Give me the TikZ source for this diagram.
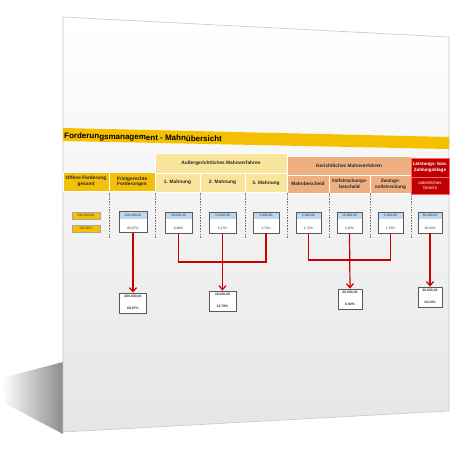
\documentclass[tikz,border=0pt]{standalone}
\usepackage{fontspec}
\setmainfont{Liberation Sans}
\usetikzlibrary{arrows.meta,fadings}
\definecolor{ttlY}{HTML}{F5C000}
\definecolor{hdrY}{HTML}{F3BF0A}
\definecolor{ausY}{HTML}{F8E49A}
\definecolor{gerS}{HTML}{EEB081}
\definecolor{klRed}{HTML}{C00000}
\definecolor{stripB}{HTML}{BDD7EE}
\definecolor{arrRed}{HTML}{CC0000}
\newcommand\mkvalbox[6]{% name, cx, width, top, value, percent
  \fill[white] ({#2-#3/2},#4) rectangle ({#2+#3/2},{#4+21});
  \fill[stripB] ({#2-#3/2},#4) rectangle ({#2+#3/2},{#4+7});
  \node[vtxt] (#1v) at (#2,{#4+3.6}) {#5};
  \node[vtxt] (#1p) at (#2,{#4+17}) {#6};
  \node[valframe, minimum width=#3, minimum height=21] (#1) at (#2,{#4+10.5}) {};
}
\newcommand\mksumbox[6]{% name, cx, width, top, value, percent
  \node[valframe, fill=white, minimum width=#3, minimum height=20] (#1) at (#2,{#4+10}) {};
  \node[vtxt, font=\fontsize{3.4}{3.7}\selectfont\bfseries] (#1v) at (#2,{#4+4}) {#5};
  \node[vtxt, font=\fontsize{3.4}{3.7}\selectfont\bfseries] (#1p) at (#2,{#4+16}) {#6};
}
\begin{document}
\begin{tikzpicture}[x=1pt,y=-1pt,
  hdr/.style={font=\fontsize{4.8}{5.5}\selectfont\bfseries, align=center, inner sep=0pt, text=black!85},
  sep/.style={draw=white, line width=0.5pt},
  vtxt/.style={font=\fontsize{3.3}{3.6}\selectfont, inner sep=0pt, text=black!80},
  valframe/.style={draw=black!65, line width=0.9pt, inner sep=0pt},
  dashline/.style={draw=black!55, dashed, line width=0.5pt, dash pattern=on 1.5pt off 1.2pt},
  redline/.style={draw=arrRed, line width=1.2pt},
  redarrow/.style={redline, -{Straight Barb[length=4pt,width=7pt]}}
]
\useasboundingbox (0,0) rectangle (450,450);
% shadow
\fill[black!45, path fading=west] (63,362) -- (2,378) -- (6,404) -- (63,434) -- cycle;
% page
\shade[top color=white, bottom color=black!10, draw=black!22, line width=0.6pt]
  (63,17) -- (449,37) -- (449,411) -- (63,432) -- cycle;
% title bar
\fill[ttlY] (63,128) -- (449,137) -- (449,149) -- (63,141) -- cycle;
\node[anchor=west, inner sep=0pt, rotate=-1.3, font=\fontsize{8}{9}\selectfont\bfseries]
  (title) at (64,136.2) {Forderungsmanagement - Mahnübersicht};
% header cells
\path[fill=hdrY, sep] (63,172) rectangle (109,191);
\path[fill=hdrY, sep] (109,172) rectangle (155,191.5);
\path[fill=ausY, sep] (155,153) rectangle (287,173);
\path[fill=ausY, sep] (155,173) rectangle (200,192);
\path[fill=ausY, sep] (200,173) rectangle (245,192);
\path[fill=ausY, sep] (245,173) rectangle (287,192.5);
\path[fill=gerS, sep] (287,156) rectangle (411,175);
\path[fill=gerS, sep] (287,175) rectangle (329,193);
\path[fill=gerS, sep] (329,175) rectangle (370,193);
\path[fill=gerS, sep] (370,175) rectangle (411,193.5);
\path[fill=klRed, draw=red!60!white, line width=0.5pt] (411,158) rectangle (449,177);
\path[fill=klRed, draw=red!60!white, line width=0.5pt] (411,177) rectangle (449,194);
\node[hdr] (hOff) at (86,181.5) {Offene Forderung\\gesamt};
\node[hdr] (hFrist) at (132,181.8) {Fristgerechte\\Forderungen};
\node[hdr] (hAus) at (221,163.5) {Außergerichtliches Mahnverfahren};
\node[hdr] (hM1) at (177.5,182.5) {1. Mahnung};
\node[hdr] (hM2) at (222.5,182.5) {2. Mahnung};
\node[hdr] (hM3) at (266,183) {3. Mahnung};
\node[hdr] (hGer) at (349,166) {Gerichtliches Mahnverfahren};
\node[hdr] (hMB) at (308,184) {Mahnbescheid};
\node[hdr] (hVB) at (349.5,184) {Vollstreckungs-\\bescheid};
\node[hdr] (hZV) at (390.5,184.2) {Zwangs-\\vollstreckung};
\node[hdr, text=white, font=\fontsize{4.6}{5.4}\selectfont\bfseries] (hKl) at (430,167.5) {Leistungs- bzw.\\Zahlungsklage};
\node[hdr, text=white, font=\fontsize{4.3}{5.2}\selectfont] (hOG) at (430,185.5) {ordentliches\\Gericht};
% dashed column separators
\foreach \xx in {109,155,200,245,287,329,370,411}
  \draw[dashline] (\xx,193) -- (\xx,238);
% total boxes
\node[fill=ttlY, draw=black!35, line width=0.5pt, minimum width=28, minimum height=7, inner sep=0pt, vtxt] (tot) at (86,215.5) {290.000,00};
\node[fill=ttlY, draw=black!35, line width=0.5pt, minimum width=28, minimum height=7, inner sep=0pt, vtxt] (totp) at (86,228.5) {100,00\%};
% value boxes
\mkvalbox{fr}{133}{28}{211.5}{200.000,00}{68,97\%}
\mkvalbox{ma}{178.5}{27}{212}{20.000,00}{6,90\%}
\mkvalbox{mb}{222.5}{27}{212}{15.000,00}{5,17\%}
\mkvalbox{mc}{266}{26}{212}{5.000,00}{1,72\%}
\mkvalbox{ga}{308.5}{25}{212}{5.000,00}{1,72\%}
\mkvalbox{gb}{349.5}{25}{212}{10.000,00}{3,45\%}
\mkvalbox{gc}{390.5}{25}{212}{5.000,00}{1,72\%}
\mkvalbox{kl}{430}{24}{212}{30.000,00}{10,34\%}
% sum boxes
\mksumbox{sfr}{133}{27}{293}{200.000,00}{68,97\%}
\mksumbox{sau}{222.5}{27}{291}{40.000,00}{13,79\%}
\mksumbox{sge}{350}{24}{289}{20.000,00}{6,90\%}
\mksumbox{skl}{430}{24}{287}{30.000,00}{10,34\%}
% connectors
\coordinate (jAus) at (0,262);
\coordinate (jGer) at (0,260);
\draw[redarrow] (fr.south) -- (sfr.north);
\draw[redline] (ma.south) -- (ma.south |- jAus) -- (mc.south |- jAus) -- (mc.south);
\draw[redarrow] (mb.south) -- (sau.north);
\draw[redline] (ga.south) -- (ga.south |- jGer) -- (gc.south |- jGer) -- (gc.south);
\draw[redarrow] (gb.south) -- (sge.north);
\draw[redarrow] (kl.south) -- (skl.north);
\end{tikzpicture}
\end{document}
